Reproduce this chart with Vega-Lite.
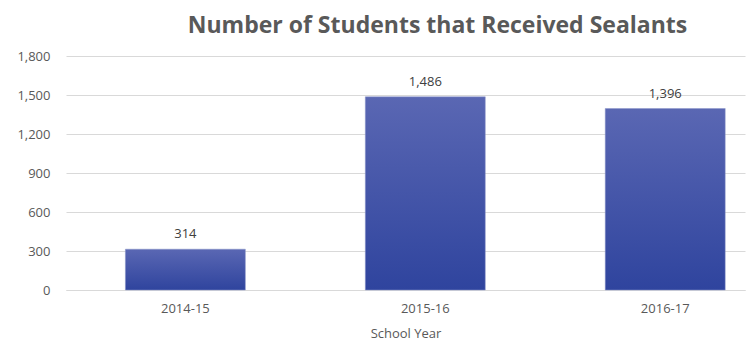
{
  "$schema": "https://vega.github.io/schema/vega-lite/v6.json",
  "width": 679,
  "height": 234,
  "autosize": "none",
  "padding": {"left": 66, "top": 56, "right": 8, "bottom": 51},
  "background": "white",
  "title": {
    "text": "Number of Students that Received Sealants",
    "font": "Open Sans",
    "fontSize": 23,
    "fontWeight": "bold",
    "color": "#595959",
    "anchor": "middle",
    "dx": 32,
    "offset": 12
  },
  "data": {
    "values": [
      {"year": "2014-15", "students": 314},
      {"year": "2015-16", "students": 1486},
      {"year": "2016-17", "students": 1396}
    ]
  },
  "encoding": {
    "x": {
      "field": "year",
      "type": "nominal",
      "sort": null,
      "title": "School Year",
      "scale": {"paddingInner": 0.5, "paddingOuter": 0.165, "align": 0.75},
      "axis": {
        "labelAngle": 0,
        "ticks": false,
        "domain": true,
        "domainColor": "#d9d9d9",
        "labelPadding": 12,
        "labelFont": "Open Sans",
        "labelFontSize": 13,
        "labelColor": "#595959",
        "titleFont": "Open Sans",
        "titleFontSize": 13,
        "titleFontWeight": "normal",
        "titleColor": "#595959",
        "titlePadding": 12
      }
    },
    "y": {
      "field": "students",
      "type": "quantitative",
      "title": null,
      "scale": {"domain": [0, 1800]},
      "axis": {
        "values": [0, 300, 600, 900, 1200, 1500, 1800],
        "format": ",d",
        "ticks": false,
        "domain": false,
        "grid": true,
        "gridColor": "#d9d9d9",
        "labelPadding": 16,
        "labelFont": "Open Sans",
        "labelFontSize": 13,
        "labelColor": "#595959"
      }
    }
  },
  "layer": [
    {
      "mark": {
        "type": "bar",
        "color": {
          "gradient": "linear",
          "x1": 0, "y1": 0, "x2": 0, "y2": 1,
          "stops": [
            {"offset": 0, "color": "#5a67b3"},
            {"offset": 1, "color": "#2f449e"}
          ]
        },
        "stroke": "#8a94c8",
        "strokeWidth": 0.5
      }
    },
    {
      "mark": {
        "type": "text",
        "baseline": "bottom",
        "dy": -8,
        "font": "Open Sans",
        "fontSize": 13,
        "color": "#404040"
      },
      "encoding": {
        "text": {"field": "students", "type": "quantitative", "format": ",d"}
      }
    }
  ],
  "config": {"view": {"stroke": null}}
}
